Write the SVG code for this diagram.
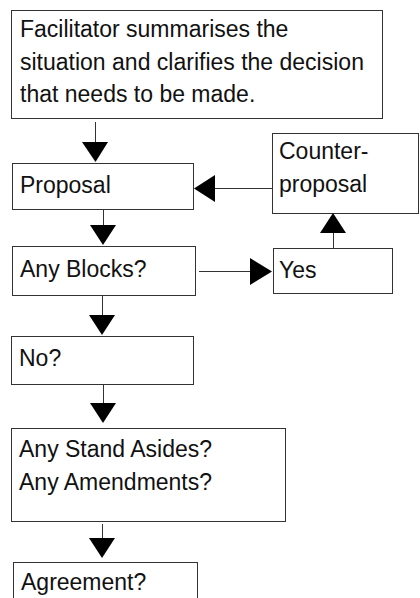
<svg xmlns="http://www.w3.org/2000/svg" width="420" height="598" viewBox="0 0 420 598">
<style>
rect.box{fill:#fff;stroke:#333;stroke-width:1}
text{font-family:"Liberation Sans",Arial,sans-serif;font-size:23px;fill:#111}
.conn line{stroke:#333;stroke-width:1}
.conn polygon{fill:#000}
</style>
<rect width="420" height="598" fill="#fff"/>
<g id="n-facilitator">
<rect class="box" x="11.5" y="10.5" width="371" height="108"/>
<text x="20" y="37">Facilitator summarises the</text>
<text x="20" y="70">situation and clarifies the decision</text>
<text x="20" y="102">that needs to be made.</text>
</g>
<g id="n-proposal">
<rect class="box" x="12.5" y="163.5" width="181" height="46"/>
<text x="20" y="193">Proposal</text>
</g>
<g id="n-counter">
<rect class="box" x="272.5" y="133.5" width="146" height="80"/>
<text x="279" y="159">Counter-</text>
<text x="279" y="192">proposal</text>
</g>
<g id="n-blocks">
<rect class="box" x="12.5" y="246.5" width="183" height="49"/>
<text x="20" y="277">Any Blocks?</text>
</g>
<g id="n-yes">
<rect class="box" x="273.5" y="248.5" width="119" height="45"/>
<text x="279" y="278">Yes</text>
</g>
<g id="n-no">
<rect class="box" x="11.5" y="336.5" width="182" height="48"/>
<text x="19" y="366">No?</text>
</g>
<g id="n-standasides">
<rect class="box" x="11.5" y="428.5" width="274" height="93"/>
<text x="19" y="457">Any Stand Asides?</text>
<text x="19" y="490">Any Amendments?</text>
</g>
<g id="n-agreement">
<rect class="box" x="13.5" y="562.5" width="184" height="40"/>
<text x="21" y="590">Agreement?</text>
</g>
<g id="connectors" class="conn">
<line x1="95.5" y1="122" x2="95.5" y2="143"/>
<polygon points="82,142 108,142 95.5,162"/>
<line x1="272" y1="188.5" x2="214" y2="188.5"/>
<polygon points="215,175 215,202 194,188.5"/>
<line x1="103.5" y1="210" x2="103.5" y2="226"/>
<polygon points="90,225 116,225 103,245"/>
<line x1="199" y1="271.5" x2="251" y2="271.5"/>
<polygon points="250,258 250,285 272,271.5"/>
<line x1="333.5" y1="248" x2="333.5" y2="232"/>
<polygon points="320,233 346,233 333,213"/>
<line x1="102.5" y1="296" x2="102.5" y2="316"/>
<polygon points="89,315 115,315 102,335"/>
<line x1="103.5" y1="385" x2="103.5" y2="404"/>
<polygon points="90,403 116,403 103,423"/>
<line x1="102.5" y1="524" x2="102.5" y2="539"/>
<polygon points="89,538 115,538 102,558"/>
</g>
</svg>
